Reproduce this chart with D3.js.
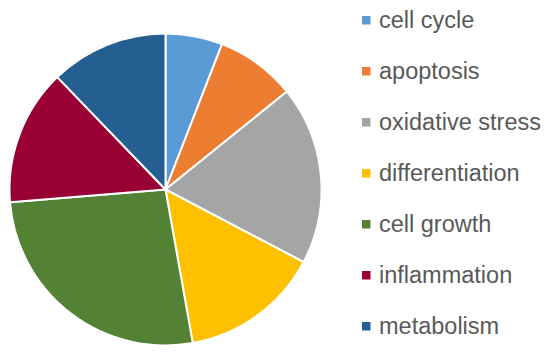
<!DOCTYPE html>
<html>
<head>
<meta charset="utf-8">
<script src="https://cdn.jsdelivr.net/npm/d3@7"></script>
<style>
  html, body { margin: 0; padding: 0; background: #fff; }
  #chart { width: 550px; height: 358px; }
</style>
</head>
<body>
<div id="chart"></div>
<script>
// slice order, clockwise from 12 o'clock
const categories = ['cell cycle', 'apoptosis', 'oxidative stress', 'differentiation', 'cell growth', 'inflammation', 'metabolism'];
const shares = [5.9, 8.3, 18.5, 14.5, 26.5, 14.1, 12.2];
const colours = ['#5b9bd5', '#ed7d31', '#a5a5a5', '#ffc000', '#548235', '#990033', '#255e91'];

const width = 550, height = 358;
const cx = 165.5, cy = 189.5, radius = 156;

const svg = d3.select('#chart')
  .append('svg')
  .attr('width', width)
  .attr('height', height);

const data = categories.map((c, i) => ({ name: c, value: shares[i], colour: colours[i] }));

const pie = d3.pie()
  .value(d => d.value)
  .sort(null);

const arc = d3.arc()
  .innerRadius(0)
  .outerRadius(radius);

const g = svg.append('g')
  .attr('transform', `translate(${cx},${cy})`);

g.selectAll('path')
  .data(pie(data))
  .join('path')
  .attr('d', arc)
  .attr('fill', d => d.data.colour)
  .attr('stroke', '#fff')
  .attr('stroke-width', 2)
  .attr('stroke-linejoin', 'round');

// legend
const rowY = d3.scalePoint()
  .domain(categories)
  .range([28, 334]);

const legend = svg.append('g');

const rows = legend.selectAll('g')
  .data(data)
  .join('g')
  .attr('transform', d => `translate(0,${rowY(d.name)})`);

rows.append('rect')
  .attr('x', 362)
  .attr('y', -12)
  .attr('width', 8.5)
  .attr('height', 8.5)
  .attr('fill', d => d.colour);

rows.append('text')
  .attr('x', 379)
  .attr('y', 0)
  .attr('font-family', 'Liberation Sans, Arial, sans-serif')
  .attr('font-size', 23.5)
  .attr('fill', '#595959')
  .text(d => d.name);
</script>
</body>
</html>
